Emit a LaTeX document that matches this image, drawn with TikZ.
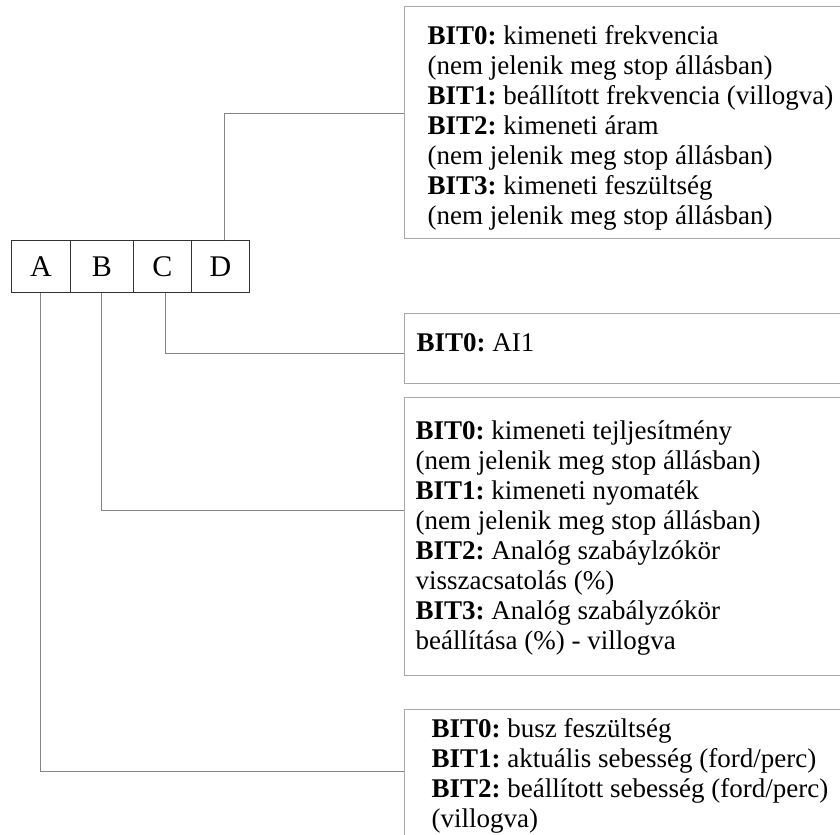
\documentclass[tikz,border=0pt]{standalone}
\usepackage{fontspec}
\setmainfont{Liberation Serif}
\usepackage{tikz}
\usetikzlibrary{positioning}

\definecolor{cellline}{HTML}{333333}
\definecolor{wireline}{HTML}{858585}
\definecolor{boxline}{HTML}{A8A8A8}

% box text: height, first baseline from top, left gap, lines
\newcommand\infotext[4]{\parbox[c][#1][t]{460bp}{\vspace*{\dimexpr#2-30bp\relax}\prevdepth=0pt
  \raggedright\leftskip=#3\relax\frenchspacing #4}}

\tikzset{
  cell/.style={draw=cellline, line width=0.9bp, minimum height=52bp, inner sep=0pt,
    anchor=north west, font=\fontsize{30bp}{30bp}\selectfont},
  infobox/.style={draw=boxline, line width=1.2bp, anchor=north west, inner sep=0pt,
    font=\fontsize{27bp}{30bp}\selectfont},
  wire/.style={draw=wireline, line width=0.9bp}
}

\begin{document}
\begin{tikzpicture}[x=1bp,y=-1bp]
   \clip (0,0) rectangle (840,835);
   \fill[white] (0,0) rectangle (840,835);

   % the four digit cells
   \node[cell, minimum width=59bp] (A) at (11,240) {A};
   \node[cell, minimum width=63bp] (B) at (70,240) {B};
   \node[cell, minimum width=58bp] (C) at (133,240) {C};
   \node[cell, minimum width=58bp] (D) at (191,240) {D};

   % the text boxes
   \node[infobox] (dbox) at (404,6) {\infotext{232bp}{38bp}{23bp}{%
      \textbf{BIT0:} kimeneti frekvencia\\
      (nem jelenik meg stop állásban)\\
      \textbf{BIT1:} beállított frekvencia (villogva)\\
      \textbf{BIT2:} kimeneti áram\\
      (nem jelenik meg stop állásban)\\
      \textbf{BIT3:} kimeneti feszültség\\
      (nem jelenik meg stop állásban)}};
   \node[infobox] (cbox) at (404,313) {\infotext{70bp}{38bp}{12bp}{%
      \textbf{BIT0:} AI1}};
   \node[infobox] (bbox) at (404,397) {\infotext{278bp}{42bp}{11bp}{%
      \textbf{BIT0:} kimeneti tejljesítmény\\
      (nem jelenik meg stop állásban)\\
      \textbf{BIT1:} kimeneti nyomaték\\
      (nem jelenik meg stop állásban)\\
      \textbf{BIT2:} Analóg szabáylzókör\\
      visszacsatolás (\%)\\
      \textbf{BIT3:} Analóg szabályzókör\\
      beállítása (\%) - villogva}};
   \node[infobox] (abox) at (404,709) {\infotext{130bp}{28bp}{27bp}{%
      \textbf{BIT0:} busz feszültség\\
      \textbf{BIT1:} aktuális sebesség (ford/perc)\\
      \textbf{BIT2:} beállított sebesség (ford/perc)\\
      (villogva)}};

   % connectors
   \draw[wire] ([xshift=4bp]D.north) |- ([yshift=9bp]dbox.west);
   \draw[wire] ([xshift=3bp]C.south) |- ([yshift=-5bp]cbox.west);
   \draw[wire] ([xshift=-1bp]B.south) |- ([yshift=26bp]bbox.west);
   \draw[wire] ([xshift=-1bp]A.south) |- ([yshift=3bp]abox.west);
\end{tikzpicture}
\end{document}
